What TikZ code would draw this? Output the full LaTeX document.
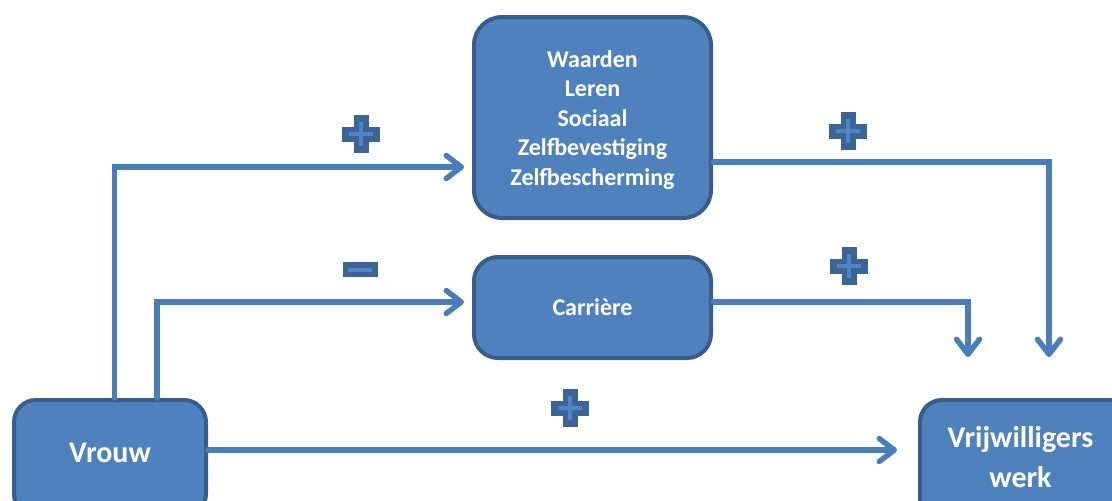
\documentclass[tikz,border=0pt]{standalone}
\usepackage{fontspec}
\setmainfont{Carlito}
\usetikzlibrary{arrows.meta}
\definecolor{boxfill}{HTML}{4F81BD}
\definecolor{boxline}{HTML}{385D8A}
\definecolor{conn}{HTML}{4A7EBB}
\definecolor{plusdark}{HTML}{3C6597}
\definecolor{pluslight}{HTML}{5085C2}
\tikzset{
  box/.style={draw=boxline, fill=boxfill, line width=4pt, rounded corners=28pt,
    text=white, font=\bfseries, align=center, inner sep=0pt},
  conn/.style={draw=conn, line width=5.5pt, line cap=round, line join=miter,
    -{Straight Barb[length=15pt,width=23pt,round,line width=5.5pt]}},
  plussign/.pic={
    \fill[plusdark] (-7.5,-19) rectangle (7.5,19);
    \fill[plusdark] (-19,-7.5) rectangle (19,7.5);
    \draw[pluslight, line width=4pt] (-12,0) -- (12,0) (0,-12) -- (0,12);
  },
  minussign/.pic={
    \fill[plusdark] (-17.5,-7.5) rectangle (17.5,7.5);
    \draw[pluslight, line width=4pt] (-12,0) -- (12,0);
  }
}
\begin{document}
\begin{tikzpicture}[x=1pt,y=-1pt]
\useasboundingbox (0,0) rectangle (1112,501);
\clip (0,0) rectangle (1112,501);
% boxes
\node[box, minimum width=237pt, minimum height=201pt] (motives) at (592.5,117.5) {};
\node[font=\fontsize{24}{29.5}\selectfont\bfseries, text=white, align=center] (motivestxt) at (592.5,120)
  {Waarden\\Leren\\Sociaal\\Zelfbevestiging\\Zelfbescherming};
\node[box, rounded corners=24pt, minimum width=237pt, minimum height=101pt, font=\fontsize{24}{29}\selectfont\bfseries] (carriere) at (592.5,307.5) {Carrière};
\node[box, rounded corners=22pt, minimum width=192pt, minimum height=116pt] (vrouw) at (110,458) {};
\node[font=\fontsize{30}{36}\selectfont\bfseries, text=white] (vrouwtxt) at (110,453) {Vrouw};
\node[box, rounded corners=22pt, minimum width=220pt, minimum height=130pt] (vrijw) at (1030,465) {};
\node[font=\fontsize{30}{40}\selectfont\bfseries, text=white, align=center] (vrijwtxt) at (1020.5,457) {Vrijwilligers\\werk};
% connectors
\coordinate (v1) at (114.5,167);
\coordinate (v2) at (157,302);
\draw[conn] (vrouw.north -| v1) |- ([xshift=-8pt]motives.west |- v1);
\draw[conn] (vrouw.north -| v2) |- ([xshift=-8pt]carriere.west |- v2);
\draw[conn] (vrouw.east |- 0,450) -- ([xshift=-21pt]vrijw.west |- 0,450);
\coordinate (r1) at (1049,357);
\coordinate (r2) at (968,357);
\draw[conn] (motives.east |- 0,162) -| (r1);
\draw[conn] (carriere.east |- 0,302) -| (r2);
% signs
\pic at (361,134) {plussign};
\pic at (360,269.5) {minussign};
\pic at (848,131) {plussign};
\pic at (849,266) {plussign};
\pic at (570,408) {plussign};
\end{tikzpicture}
\end{document}
